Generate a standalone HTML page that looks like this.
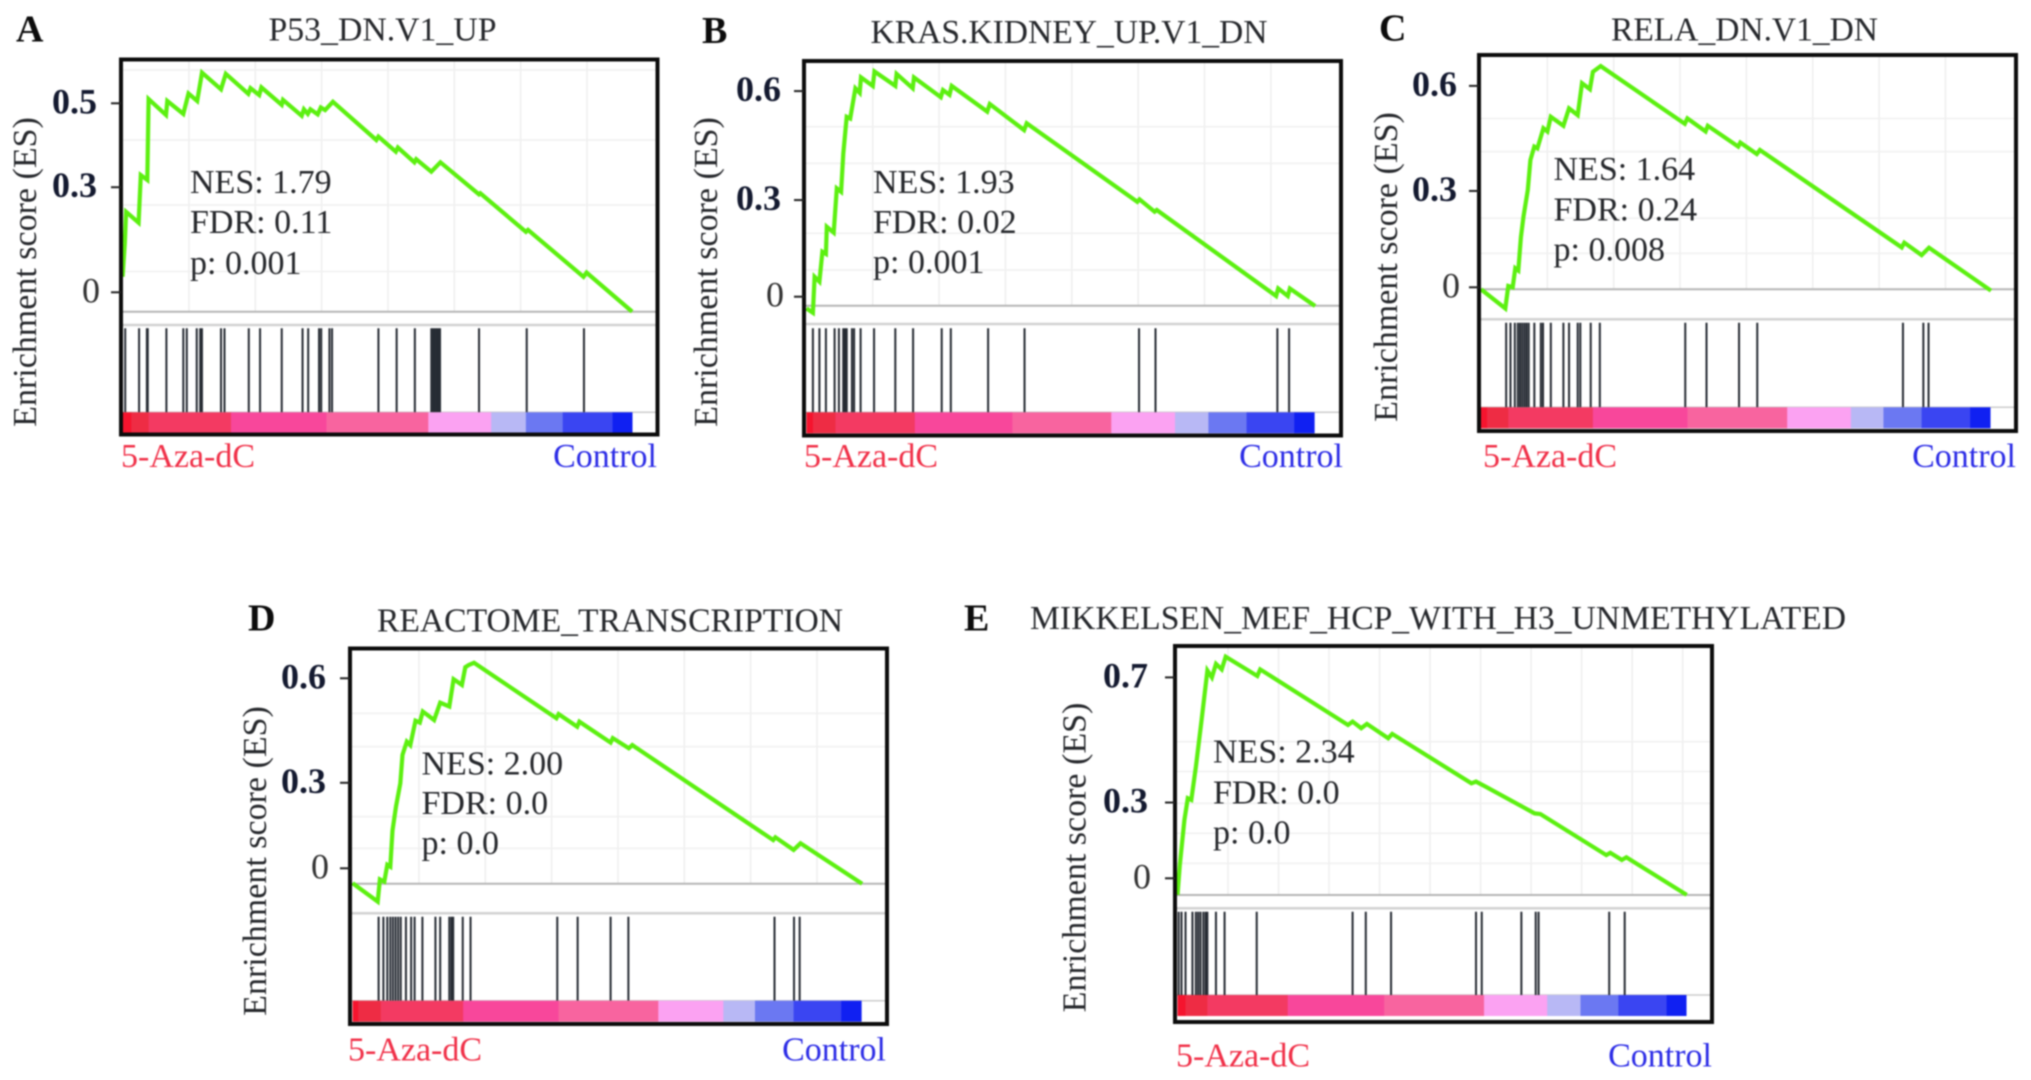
<!DOCTYPE html>
<html lang="en">
<head>
<meta charset="utf-8">
<title>GSEA enrichment plots</title>
<style>
html,body{margin:0;padding:0;background:#fff;width:2031px;height:1080px;overflow:hidden}
svg{display:block;filter:blur(.8px)}
text{font-family:"Liberation Serif",serif;font-size:34px;fill:#26282c}
</style>
</head>
<body>
<svg id="figure" xmlns="http://www.w3.org/2000/svg" width="2031" height="1080" viewBox="0 0 2031 1080"></svg>
<script>
// Panel A
const panelATitle = "P53_DN.V1_UP";
const panelAStats = ["NES: 1.79", "FDR: 0.11", "p: 0.001"];
const panelATickValues = [0, 0.278, 0.5];
const panelATickLabels = ["0", "0.3", "0.5"];
const panelARanks = [0,5,8,37,42,57,60,100,103,140,152,172,183,227,238,290,295,315,320,367,370,413,418,427,433,450,457,467,485,585,590,630,635,673,677,712,733,822,825,930,935,1063,1070,1175];
const panelAScores = [.041,.130,.213,.184,.310,.297,.511,.469,.506,.472,.526,.506,.581,.537,.578,.525,.540,.522,.542,.496,.509,.467,.484,.472,.484,.471,.489,.482,.504,.403,.412,.372,.383,.344,.352,.319,.344,.259,.262,.160,.165,.041,.052,-.051];
const panelAHits = [6,38,56,58,101,140,148,171,179,183,227,235,291,317,367,415,428,453,458,477,483,590,632,674,712,716,720,724,728,732,822,932,1064];
const panelAHeatEdges = [0,20,60,250,470,705,850,930,1015,1130,1175];
const panelAGridScores = [.588,.403,.231,.055];

// Panel B
const panelBTitle = "KRAS.KIDNEY_UP.V1_DN";
const panelBStats = ["NES: 1.93", "FDR: 0.02", "p: 0.001"];
const panelBTickValues = [0, 0.282, 0.6];
const panelBTickLabels = ["0", "0.3", "0.6"];
const panelBRanks = [0,15,19,30,37,45,47,63,70,80,85,93,101,113,123,126,153,157,205,208,245,248,310,315,330,335,417,423,502,508,763,768,803,808,1083,1088,1110,1115,1173];
const panelBScores = [-.034,-.047,.058,.044,.131,.125,.204,.187,.316,.306,.418,.525,.520,.608,.595,.640,.615,.657,.615,.650,.608,.640,.582,.603,.589,.615,.540,.562,.486,.506,.277,.284,.248,.253,.002,.024,.002,.024,-.027];
const panelBHits = [15,30,45,65,75,85,89,93,105,110,125,156,205,246,312,333,419,503,767,805,1086,1113];
const panelBHeatEdges = [0,15,67,250,475,703,850,927,1015,1125,1171];
const panelBGridScores = [.496,.389,.185,.078];

// Panel C
const panelCTitle = "RELA_DN.V1_DN";
const panelCStats = ["NES: 1.64", "FDR: 0.24", "p: 0.008"];
const panelCTickValues = [0, 0.287, 0.6];
const panelCTickLabels = ["0", "0.3", "0.6"];
const panelCRanks = [0,56,63,73,79,86,92,98,108,114,123,130,144,153,161,190,203,223,233,251,258,276,470,476,518,523,593,598,636,643,970,976,1016,1033,1176];
const panelCScores = [-.006,-.063,.004,0,.057,.050,.149,.211,.290,.379,.419,.414,.474,.464,.508,.481,.533,.513,.608,.590,.642,.659,.487,.503,.464,.481,.419,.431,.397,.409,.119,.133,.096,.118,-.010];
const panelCHits = [58,68,78,85,90,95,100,105,110,123,138,143,161,190,203,223,229,253,274,471,520,595,637,973,1020,1032];
const panelCHeatEdges = [0,14,63,258,476,706,853,928,1016,1128,1174];
const panelCGridScores = [.503,.404,.206,.101];

// Panel D
const panelDTitle = "REACTOME_TRANSCRIPTION";
const panelDStats = ["NES: 2.00", "FDR: 0.0", "p: 0.0"];
const panelDTickValues = [0, 0.27, 0.6];
const panelDTickLabels = ["0", "0.3", "0.6"];
const panelDRanks = [0,58,63,73,80,87,92,100,110,115,125,133,145,155,162,188,202,223,233,252,260,268,280,470,475,518,523,595,600,637,645,970,975,1017,1033,1175];
const panelDScores = [-.047,-.105,-.035,-.042,.011,.005,.119,.195,.268,.358,.400,.389,.466,.460,.495,.468,.523,.511,.597,.579,.635,.642,.649,.474,.487,.447,.463,.397,.411,.379,.389,.089,.098,.058,.079,-.049];
const panelDHits = [60,71,80,87,93,99,105,111,123,135,143,161,191,202,223,228,232,254,272,472,519,595,636,973,1018,1031];
const panelDHeatEdges = [0,13,65,255,475,705,855,928,1017,1127,1173];
const panelDGridScores = [.489,.384,.163,.063];

// Panel E
const panelETitle = "MIKKELSEN_MEF_HCP_WITH_H3_UNMETHYLATED";
const panelEStats = ["NES: 2.34", "FDR: 0.0", "p: 0.0"];
const panelETickValues = [0, 0.264, 0.7];
const panelETickLabels = ["0", "0.3", "0.7"];
const panelERanks = [0,4,12,18,24,32,42,52,60,67,77,84,139,144,297,305,320,330,367,374,512,520,537,622,632,747,754,774,782,887];
const panelEScores = [-.058,.046,.203,.279,.273,.389,.552,.724,.700,.747,.728,.772,.705,.728,.534,.546,.523,.538,.488,.503,.331,.337,.319,.226,.224,.081,.089,.064,.073,-.058];
const panelEHits = [2,7,14,26,32,36,40,45,49,52,67,82,138,305,328,372,520,530,599,624,629,752,779];
const panelEHeatEdges = [0,14,52,192,360,534,644,702,768,852,886];
const panelEGridScores = [.476,.372,.261,.157,.052];

const conditionLabels = ["5-Aza-dC", "Control"];

const svg = document.getElementById('figure');
const NS = 'http://www.w3.org/2000/svg';
const heatColors = ['#f5142e','#ee2c44','#f33a62','#f8479b','#f8649f','#fba2f2','#b8b8f5','#6b78f2','#3a45f2','#1020f2'];

function mk(tag, attrs, parent) {
  const node = document.createElementNS(NS, tag);
  for (const k in attrs) node.setAttribute(k, attrs[k]);
  parent.appendChild(node);
  return node;
}

function drawPanel(p) {
  const group = mk('g', {}, svg);
  
  

  const xScale = r => p.plotLeft + r * p.plotWidth / p.rankMax;
  const yScale = v => p.zeroY - v * p.pxPerUnit;

  const frameFill = mk('rect', {x: p.box[0], y: p.box[1], width: p.box[2] - p.box[0], height: p.box[3] - p.box[1], fill: '#fff'}, group);
  
  

  // grid
  const rankGrid = p.rankGridStep;
  for (let r = rankGrid; r < p.rankMax; r += rankGrid) {
    const g = mk('line', {x1: xScale(r), x2: xScale(r), y1: p.box[1], y2: p.baselineY, stroke: '#eeeeee', 'stroke-width': 1.5}, group);
    
    
  }
  p.gridScores.forEach(v => {
    const g = mk('line', {x1: p.box[0], x2: p.box[2], y1: yScale(v), y2: yScale(v), stroke: '#f0f0f0', 'stroke-width': 1.5}, group);
    
    
  });

  // baseline and separators
  const base = mk('line', {x1: p.box[0], x2: p.box[2], y1: p.baselineY, y2: p.baselineY, stroke: '#b5b5b5', 'stroke-width': 2}, group);
  
  
  const sep = mk('line', {x1: p.box[0], x2: p.box[2], y1: p.sepY, y2: p.sepY, stroke: '#d2d2d2', 'stroke-width': 2.5}, group);
  
  
  const barTopLine = mk('line', {x1: p.box[0], x2: p.box[2], y1: p.barTop, y2: p.barTop, stroke: '#cccccc', 'stroke-width': 1.5}, group);
  
  

  // hit marks
  p.hits.forEach(r => {
    const h = mk('line', {x1: xScale(r), x2: xScale(r), y1: p.hitTop, y2: p.barTop, stroke: '#262b33', 'stroke-width': 2}, group);
    
    
  });

  // ranked-list colour bar
  p.heatEdges.slice(0, -1).forEach((edge, i) => {
    const x0 = xScale(edge), x1 = xScale(p.heatEdges[i + 1]);
    const s = mk('rect', {x: x0, y: p.barTop, width: x1 - x0 + .4, height: p.barBottom - p.barTop, fill: heatColors[i]}, group);
    
    
  });

  // ES curve
  const curve = mk('polyline', {points: p.ranks.map((r, i) => xScale(r).toFixed(1) + ',' + yScale(p.scores[i]).toFixed(1)).join(' '), fill: 'none', stroke: '#5cf010', 'stroke-width': 4.2, 'stroke-linejoin': 'miter'}, group);
  
  

  // frame
  const frame = mk('rect', {x: p.box[0], y: p.box[1], width: p.box[2] - p.box[0], height: p.box[3] - p.box[1], fill: 'none', stroke: '#0c0c0c', 'stroke-width': 4}, group);
  
  

  // y ticks
  p.tickValues.forEach((v, i) => {
    const t = mk('line', {x1: p.box[0] - 10, x2: p.box[0], y1: yScale(v), y2: yScale(v), stroke: '#222', 'stroke-width': 2}, group);
    
    
    const isZero = p.tickLabels[i] === '0';
    const l = mk('text', {x: p.tickRight + (isZero ? 3 : 0), y: yScale(v) + 10, 'text-anchor': 'end', 'font-weight': isZero ? 'normal' : 'bold', style: isZero ? 'font-size:36px;fill:#333' : 'font-size:36px;fill:#141a30'}, group);
    l.textContent = p.tickLabels[i];
    
    
  });

  // text
  const letter = mk('text', {x: p.letterX, y: p.letterY, 'font-weight': 'bold', style: 'font-size:38px;fill:#0c0c0c'}, group);
  letter.textContent = p.letter;
  
  

  const title = mk('text', {x: p.titleX, y: p.titleY, textLength: p.titleWidth, lengthAdjust: 'spacingAndGlyphs'}, group);
  title.textContent = p.title;
  
  

  const yTitle = mk('text', {transform: 'translate(' + p.yTitleX + ',' + p.yTitleY + ') rotate(-90)', 'text-anchor': 'middle'}, group);
  yTitle.textContent = 'Enrichment score (ES)';
  
  

  p.stats.forEach((s, i) => {
    const st = mk('text', {x: p.statX, y: p.statY[i]}, group);
    st.textContent = s;
    
    
  });

  const left = mk('text', {x: p.condLeft, y: p.condY, style: 'fill:#f03048'}, group);
  left.textContent = conditionLabels[0];
  
  
  const right = mk('text', {x: p.condRight, y: p.condY, 'text-anchor': 'end', style: 'fill:#2c2ce6'}, group);
  right.textContent = conditionLabels[1];
  
  
}

drawPanel({letter:'A', title:panelATitle, stats:panelAStats, tickValues:panelATickValues, tickLabels:panelATickLabels,
  ranks:panelARanks, scores:panelAScores, hits:panelAHits, heatEdges:panelAHeatEdges, gridScores:panelAGridScores,
  rankMax:1175, rankGridStep:153, plotLeft:122.6, plotWidth:509.5, zeroY:292.3, pxPerUnit:378,
  box:[121,59.5,657.5,434.5], baselineY:311.7, sepY:325, hitTop:328.3, barTop:412.3, barBottom:432.7,
  tickRight:97, letterX:16, letterY:41.7, titleX:268.5, titleY:40.7, titleWidth:228,
  yTitleX:36, yTitleY:272, statX:190, statY:[193,233,274], condLeft:121, condRight:657, condY:467});
drawPanel({letter:'B', title:panelBTitle, stats:panelBStats, tickValues:panelBTickValues, tickLabels:panelBTickLabels,
  ranks:panelBRanks, scores:panelBScores, hits:panelBHits, heatEdges:panelBHeatEdges, gridScores:panelBGridScores,
  rankMax:1173, rankGridStep:153, plotLeft:806.4, plotWidth:508.7, zeroY:296.7, pxPerUnit:342.7,
  box:[804,61,1341,435.5], baselineY:305.7, sepY:324, hitTop:328.3, barTop:412.3, barBottom:433.3,
  tickRight:781, letterX:702, letterY:43, titleX:870.5, titleY:43, titleWidth:397,
  yTitleX:717, yTitleY:272, statX:873, statY:[193,233,273], condLeft:804, condRight:1343, condY:467});
drawPanel({letter:'C', title:panelCTitle, stats:panelCStats, tickValues:panelCTickValues, tickLabels:panelCTickLabels,
  ranks:panelCRanks, scores:panelCScores, hits:panelCHits, heatEdges:panelCHeatEdges, gridScores:panelCGridScores,
  rankMax:1176, rankGridStep:153, plotLeft:1481, plotWidth:510, zeroY:287.3, pxPerUnit:335.7,
  box:[1479,55,2016,431], baselineY:289.3, sepY:319.3, hitTop:322.7, barTop:407.3, barBottom:428.3,
  tickRight:1457, letterX:1379, letterY:40.7, titleX:1611, titleY:40.7, titleWidth:267,
  yTitleX:1397, yTitleY:267, statX:1553.5, statY:[180,220.7,260.7], condLeft:1483, condRight:2016, condY:467});
drawPanel({letter:'D', title:panelDTitle, stats:panelDStats, tickValues:panelDTickValues, tickLabels:panelDTickLabels,
  ranks:panelDRanks, scores:panelDScores, hits:panelDHits, heatEdges:panelDHeatEdges, gridScores:panelDGridScores,
  rankMax:1175, rankGridStep:153, plotLeft:352.6, plotWidth:509.5, zeroY:868.3, pxPerUnit:316.7,
  box:[350,648.5,887,1024], baselineY:883.7, sepY:913.3, hitTop:916.7, barTop:1000.7, barBottom:1021.7,
  tickRight:326, letterX:248, letterY:630.7, titleX:377, titleY:631.7, titleWidth:466,
  yTitleX:266, yTitleY:861, statX:421.5, statY:[774.3,814,854], condLeft:348, condRight:886, condY:1060.7});
drawPanel({letter:'E', title:panelETitle, stats:panelEStats, tickValues:panelETickValues, tickLabels:panelETickLabels,
  ranks:panelERanks, scores:panelEScores, hits:panelEHits, heatEdges:panelEHeatEdges, gridScores:panelEGridScores,
  rankMax:887, rankGridStep:88, plotLeft:1177.5, plotWidth:509.2, zeroY:878.3, pxPerUnit:287,
  box:[1175,646,1712,1022], baselineY:895, sepY:908.3, hitTop:911.7, barTop:995, barBottom:1016,
  tickRight:1148, letterX:964, letterY:630.7, titleX:1030, titleY:629, titleWidth:816,
  yTitleX:1085.6, yTitleY:857.5, statX:1213, statY:[762.7,803.3,843.3], condLeft:1176, condRight:1712, condY:1066.7});
</script>
</body>
</html>
